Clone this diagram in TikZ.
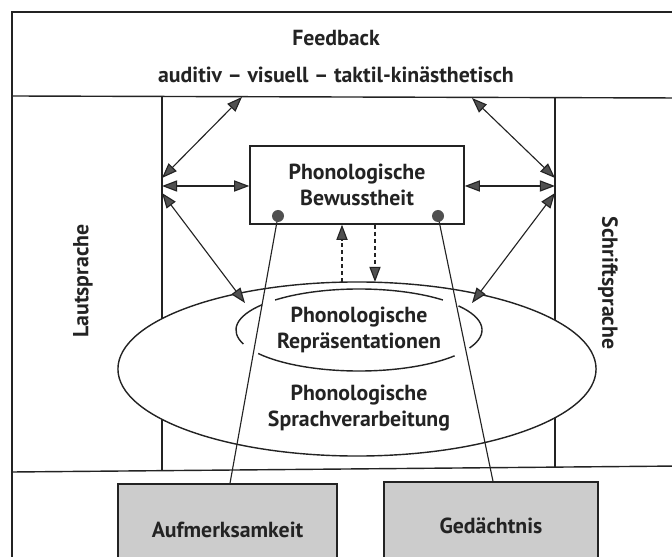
\documentclass[tikz,border=0pt]{standalone}
\usepackage{fontspec}
\setmainfont{PT Sans}
\usetikzlibrary{arrows.meta,shapes.geometric}
\definecolor{ink}{RGB}{35,35,35}
\definecolor{tipgray}{RGB}{80,80,80}
\definecolor{shade}{RGB}{204,204,204}
\tikzset{
  >={Triangle[length=3.8mm,width=2.8mm,fill=tipgray]},
  label text/.style={font=\fontsize{15.5}{19}\selectfont\bfseries,text=ink,align=center},
  box/.style={draw=ink,fill=#1,line width=1pt,inner sep=0pt,
    label text},
  box/.default=white,
  frame/.style={draw=ink,line width=1.6pt},
  rule/.style={draw=ink,line width=1pt},
  flow/.style={<->,draw=ink,line width=0.8pt},
  hint/.style={->,draw=ink,line width=0.8pt,densely dashed},
  tie/.style={draw=ink,line width=0.8pt},
}
\begin{document}
\begin{tikzpicture}[x=0.025cm,y=-0.025cm]
  \useasboundingbox (0,0) rectangle (672,557);
  \clip (0,0) rectangle (672,557);
  % frame and bands
  \draw[frame] (12,570) -- (12,12) -- (680,12);
  \draw[rule] (12,96) -- (680,98);
  \draw[rule] (12,472) -- (680,466);
  \draw[rule] (162,97) -- (162,471);
  \draw[rule] (555,98) -- (555,467);
  \node[label text] (fb) at (336,38) {Feedback};
  \node[label text] (sense) at (336,75) {auditiv -- visuell -- taktil-kinästhetisch};
  \node[label text,rotate=90] (laut) at (83,281) {Lautsprache};
  \node[label text,rotate=-90] (schrift) at (608,283) {Schriftsprache};
  % ellipses
  \node[ellipse,draw=ink,fill=white,line width=1pt,inner sep=0pt,
    minimum width=11.95cm,minimum height=4.35cm] (verarb) at (357,369) {};
  \node[label text] (verarbtext) at (359,408) {Phonologische\\Sprachverarbeitung};
  \node[label text] (rep) at (359,330) {Phonologische\\Repräsentationen};
  \foreach \s/\e in {47/133,142/200,215/321,-26/36}
    \draw[tie,line width=1pt] ([shift={(\s:3.075cm and 1.025cm)}]rep.center)
      arc[start angle=\s,end angle=\e,x radius=3.075cm,y radius=1.025cm];
  % boxes
  \node[box,minimum width=5.35cm,minimum height=1.95cm] (bew) at (357,185) {Phonologische\\Bewusstheit};
  \node[box=shade,minimum width=5.475cm,minimum height=2.3cm] (aufm) at (227.5,530) {Aufmerksamkeit};
  \node[box=shade,minimum width=5.35cm,minimum height=2.2cm] (gedae) at (491,526) {Gedächtnis};
  % anchors on the rules
  \coordinate (fbL) at (242,97);
  \coordinate (fbR) at (472,98);
  \coordinate (lautA) at (162,178);
  \coordinate (lautB) at (162,186);
  \coordinate (lautC) at (162,193);
  \coordinate (schriftA) at (555,178);
  \coordinate (schriftB) at (555,186);
  \coordinate (schriftC) at (555,193);
  \coordinate (repL) at (245,303);
  \coordinate (repR) at (472,303);
  \coordinate (dotL) at (278,216);
  \coordinate (dotR) at (438,216);
  \draw[flow] (fbL) -- (lautA);
  \draw[flow] (lautB) -- (bew.west |- lautB);
  \draw[flow] (lautC) -- (repL);
  \draw[flow] (fbR) -- (schriftA);
  \draw[flow] (bew.east |- schriftB) -- (schriftB);
  \draw[flow] (schriftC) -- (repR);
  \draw[hint] (342,282) -- (bew.south -| 342,0);
  \draw[hint] (bew.south -| 375,0) -- (375,282);
  \draw[tie] (dotL) -- (aufm.north -| 230,0);
  \draw[tie] (dotR) -- (gedae.north -| 493,0);
  \fill[tipgray] (dotL) circle (6) (dotR) circle (6);
\end{tikzpicture}
\end{document}
